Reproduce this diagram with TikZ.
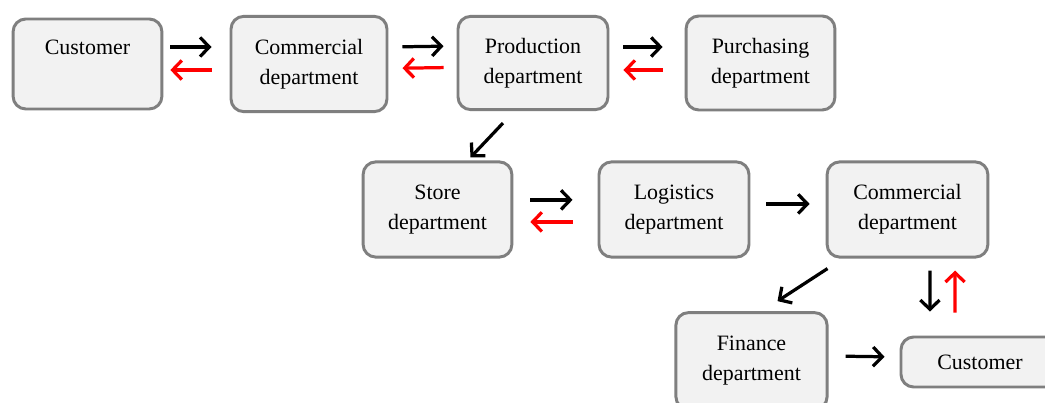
\documentclass[tikz,border=0pt]{standalone}
\usepackage{fontspec}
\setmainfont{Liberation Serif}
\usepackage{tikz}
\usetikzlibrary{arrows.meta}

\definecolor{boxline}{HTML}{7F7F7F}
\definecolor{boxfill}{HTML}{F2F2F2}

\begin{document}
\begin{tikzpicture}[x=0.25mm,y=-0.25mm,
  font=\fontsize{15.6}{21.3}\selectfont,
  dept/.style={draw=boxline,fill=boxfill,line width=2.1pt,rounded corners=9pt,
    inner sep=2pt,align=center,text width=3.5cm},
  fwd/.style={-{Straight Barb[length=2.3mm,width=4.8mm,line width=2.3pt]},line width=2.3pt,black},
  back/.style={fwd,red}]
  \clip (0,0) rectangle (1045,403);
  \fill[white] (0,0) rectangle (1045,403);
  % first row
  \node[dept,minimum width=3.72cm,minimum height=2.25cm] (cust) at (87.5,64) {Customer\\[2pt]~};
  \node[dept,minimum width=3.9cm,minimum height=2.38cm] (com) at (309,64) {Commercial\\department};
  \node[dept,minimum width=3.75cm,minimum height=2.33cm] (prod) at (533,63) {Production\\department};
  \node[dept,minimum width=3.72cm,minimum height=2.35cm] (purch) at (760.5,63) {Purchasing\\department};
  \draw[fwd,shorten <=1.75mm,shorten >=4.5mm] ([yshift=4.25mm]cust.east) -- ([yshift=4.25mm]com.west);
  \draw[back,shorten <=4.5mm,shorten >=1.75mm] ([yshift=-1.5mm]com.west) -- ([yshift=-1.5mm]cust.east);
  \draw[fwd,shorten <=3.5mm,shorten >=3.25mm] ([yshift=4.25mm]com.east) -- ([yshift=4.25mm]prod.west);
  \draw[back,shorten <=3.25mm,shorten >=3.5mm] ([yshift=-1.1mm]prod.west) -- ([yshift=-1.1mm]com.east);
  \draw[fwd,shorten <=3.5mm,shorten >=5.5mm] ([yshift=4.0mm]prod.east) -- ([yshift=4.0mm]purch.west);
  \draw[back,shorten <=5.5mm,shorten >=3.5mm] ([yshift=-1.75mm]purch.west) -- ([yshift=-1.75mm]prod.east);
  % second row
  \node[dept,minimum width=3.72cm,minimum height=2.38cm] (store) at (437.5,209.5) {Store\\department};
  \node[dept,minimum width=3.75cm,minimum height=2.38cm] (logi) at (674,209.5) {Logistics\\department};
  \node[dept,minimum width=4.02cm,minimum height=2.38cm] (com2) at (907.5,209.5) {Commercial\\department};
  \draw[fwd] ([xshift=-7.5mm,yshift=-3mm]prod.south) -- ([xshift=8.25mm,yshift=0.75mm]store.north);
  \draw[fwd,shorten <=4.25mm,shorten >=6.25mm] ([yshift=2.4mm]store.east) -- ([yshift=2.4mm]logi.west);
  \draw[back,shorten <=6.25mm,shorten >=4.25mm] ([yshift=-3.1mm]logi.west) -- ([yshift=-3.1mm]store.east);
  \draw[fwd,shorten <=4mm,shorten >=4mm] ([yshift=1.4mm]logi.east) -- ([yshift=1.4mm]com2.west);
  % last row
  \node[dept,minimum width=3.78cm,minimum height=2.42cm] (fin) at (751.5,361) {Finance\\department};
  \node[dept,minimum width=3.95cm,minimum height=1.25cm] (cust2) at (980,362) {Customer};
  \draw[fwd] ([xshift=-20mm,yshift=-2.5mm]com2.south) -- ([xshift=6.5mm,yshift=2.5mm]fin.north);
  \draw[fwd,shorten <=3mm,shorten >=6mm] ([xshift=5.6mm]com2.south) -- ([xshift=-12.5mm]cust2.north);
  \draw[back,shorten <=5.75mm,shorten >=3mm] ([xshift=-6.25mm]cust2.north) -- ([xshift=11.9mm]com2.south);
  \draw[fwd,shorten <=4.25mm,shorten >=3.75mm] ([yshift=1.25mm]fin.east) -- ([yshift=1.25mm]cust2.west);
\end{tikzpicture}
\end{document}
